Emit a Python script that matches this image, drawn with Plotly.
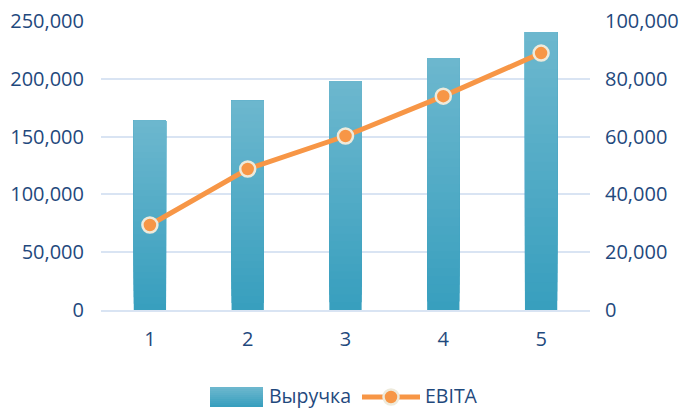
import plotly.graph_objects as go

categories = ["1", "2", "3", "4", "5"]
revenue = [164000, 181000, 198000, 218000, 240500]
ebita = [29400, 48800, 60200, 74000, 88900]
left_ticks = [0, 50000, 100000, 150000, 200000, 250000]
right_ticks = [0, 20000, 40000, 60000, 80000, 100000]
series_names = ["Выручка", "EBITA"]

TEXT = "#1F497D"
GRID = "#D9E4F3"
ORANGE = "#F79646"
FONT = "Open Sans"

top_rgb = (0x6C, 0xB7, 0xCE)
bot_rgb = (0x38, 0x9F, 0xBE)
N = 30


def grad(t):
    return "rgb(%d,%d,%d)" % tuple(round(bot_rgb[k] + (top_rgb[k] - bot_rgb[k]) * t) for k in range(3))


fig = go.Figure()
for i in range(N):
    t = i / (N - 1)
    fig.add_trace(go.Bar(
        x=categories,
        y=[v * (N - i) / N for v in revenue],
        base=[v * i / N for v in revenue],
        marker=dict(color=grad(t), line=dict(width=0)),
        width=0.33,
        name=series_names[0],
        showlegend=False,
        yaxis="y",
        hoverinfo="skip" if i else "y",
    ))

fig.add_trace(go.Scatter(
    x=categories, y=ebita, name=series_names[1], yaxis="y2",
    mode="lines+markers", showlegend=False,
    line=dict(color=ORANGE, width=5),
    marker=dict(size=15, color=ORANGE, line=dict(color="#EEEADB", width=2.5)),
))

# manual legend (paper pixel geometry)
W, H = 686, 408
L, R, T, B = 101, 96, 21, 98
pw, ph = W - L - R, H - T - B


def px(x):
    return (x - L) / pw


def py(y):
    return (H - B - y) / ph


shapes = []
M = 10
for i in range(M):
    y0 = 407 - 20 * i / M
    y1 = 407 - 20 * (i + 1) / M - 0.5
    shapes.append(dict(type="rect", xref="paper", yref="paper",
                       x0=px(210), x1=px(263), y0=py(y0), y1=py(max(y1, 387)),
                       fillcolor=grad(i / (M - 1)), line=dict(width=0), layer="above"))
shapes.append(dict(type="line", xref="paper", yref="paper",
                   x0=px(362), x1=px(420), y0=py(397), y1=py(397),
                   line=dict(color=ORANGE, width=5)))
shapes.append(dict(type="circle", xref="paper", yref="paper",
                   x0=px(383.5), x1=px(398.5), y0=py(389.5), y1=py(404.5),
                   fillcolor=ORANGE, line=dict(color="#EEEADB", width=2.5)))

annotations = [
    dict(text=series_names[0], xref="paper", yref="paper", x=px(268), y=py(395),
         xanchor="left", yanchor="middle", showarrow=False, borderpad=0,
         font=dict(family=FONT, size=19.5, color=TEXT)),
    dict(text=series_names[1], xref="paper", yref="paper", x=px(424), y=py(395),
         xanchor="left", yanchor="middle", showarrow=False, borderpad=0,
         font=dict(family=FONT, size=19.5, color=TEXT)),
]

fig.update_layout(
    width=W, height=H,
    margin=dict(l=L, r=R, t=T, b=B, autoexpand=False),
    paper_bgcolor="white", plot_bgcolor="white",
    barmode="overlay",
    font=dict(family=FONT, size=20, color=TEXT),
    showlegend=False,
    shapes=shapes,
    annotations=annotations,
    xaxis=dict(type="category", range=[-0.5, 4.5], showgrid=False, automargin=False,
               showline=True, linecolor=GRID, linewidth=2, ticks="",
               ticklabelstandoff=10, tickfont=dict(size=20, color=TEXT)),
    yaxis=dict(range=[0, 250000], tickvals=left_ticks, tickformat=",", automargin=False,
               showgrid=True, gridcolor=GRID, gridwidth=2, zeroline=False,
               ticks="", ticklabelstandoff=16, tickfont=dict(size=20, color=TEXT)),
    yaxis2=dict(range=[0, 100000], tickvals=right_ticks, tickformat=",", automargin=False,
                overlaying="y", side="right", showgrid=False, zeroline=False,
                ticks="", ticklabelstandoff=14, tickfont=dict(size=20, color=TEXT)),
)

fig.write_html("out.html", config={"displayModeBar": False},
               post_script="document.body.style.margin='0';document.body.style.overflow='hidden';")
